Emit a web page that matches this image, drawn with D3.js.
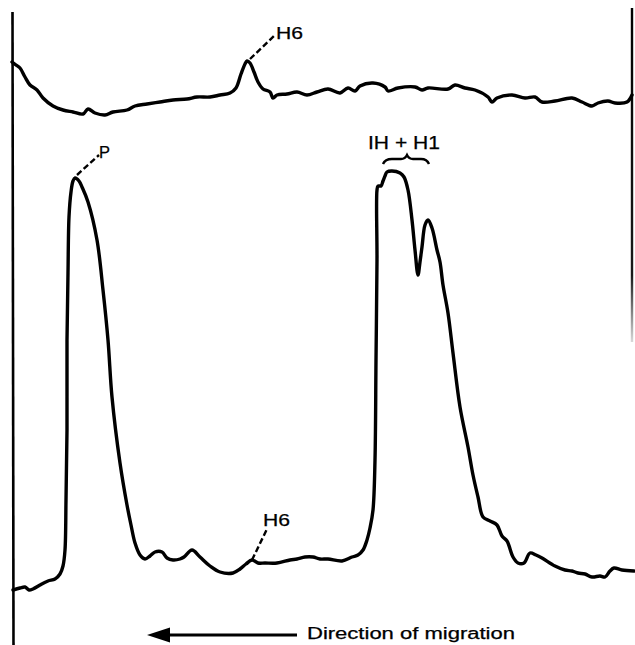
<!DOCTYPE html>
<html>
<head>
<meta charset="utf-8">
<script src="https://cdn.jsdelivr.net/npm/d3@7/dist/d3.min.js"></script>
<style>
  html, body { margin: 0; padding: 0; background: #fff; }
  svg { display: block; }
  text { font-family: "Liberation Sans", Arial, Helvetica, sans-serif; fill: #000; stroke: #000; stroke-width: 0.25px; }
</style>
</head>
<body>
<svg id="chart" width="635" height="645"></svg>
<script>
// Migration distance (arbitrary units) and densitometer readings (arbitrary units)
const topDistance = [0,4,8,13,18,25,31,41,51,61,71,76,83,93,101,115,123,135,148,161,175,185,198,208,218,224,229,233,235,238,242,246,251,258,261,265,275,285,295,305,316,328,336,343,348,361,373,376,386,403,410,416,436,443,453,463,476,480,485,500,513,523,530,543,560,570,580,586,596,603,615,620];
const topDensity  = [58,55,52,43,35,30,22,14,10,8,6,11,7,5,8,10,14,16,18,20,21,23,23,25,27,32,46,56,59,57,48,38,31,28,22,25,26,28,25,28,31,27,32,29,34,37,33,29,32,33,30,32,31,35,32,30,23,18,22,25,22,23,18,19,22,18,14,17,19,17,18,25];

const bottomDistance = [1,8,13,17,21,28,36,43,48,51,53,54,55,55,56,57,59,61,63,67,70,76,85,91,96,100,108,115,119,123,128,133,138,143,150,155,161,168,172,180,188,198,208,221,228,234,240,246,253,265,278,285,293,301,308,316,330,340,346,351,355,358,361,363,364,365,365,366,369,371,373,375,380,388,392,396,400,403,406,408,410,413,416,420,425,428,431,436,441,448,456,461,466,471,478,485,490,495,501,506,512,518,524,530,543,553,560,566,573,580,588,593,598,602,610,622];
const bottomDensity  = [10,12,13,10,11,15,19,21,26,34,50,100,170,260,327,383,408,419,422,419,413,398,360,310,260,203,137,95,75,57,45,41,44,48,48,42,40,41,43,50,43,34,28,27,31,36,40,37,37,37,40,41,43,43,41,41,39,43,45,50,60,72,90,140,240,340,410,414,414,419,424,428,429,427,423,410,380,350,325,338,353,375,380,372,350,338,315,287,247,193,153,125,103,83,79,75,64,59,43,37,37,47,45,42,34,30,29,27,26,23,24,23,29,32,30,29];

const labels = ["H6", "P", "IH + H1", "H6", "Direction of migration"];

const topSeries = topDistance.map((d, i) => ({ x: d, y: topDensity[i] }));
const bottomSeries = bottomDistance.map((d, i) => ({ x: d, y: bottomDensity[i] }));

const svg = d3.select("#chart");

const x = d3.scaleLinear().domain([0, 620]).range([12, 632]);
const yTop = d3.scaleLinear().domain([0, 100]).range([120, 20]);
const yBottom = d3.scaleLinear().domain([0, 500]).range([600, 100]);

// Frame lines (chart paper edges)
svg.append("line")
  .attr("x1", x(0) + 0.5).attr("x2", x(0) + 1.5)
  .attr("y1", 12).attr("y2", 645)
  .attr("stroke", "#000").attr("stroke-width", 2.6);

const grad = svg.append("defs").append("linearGradient")
  .attr("id", "fade").attr("x1", 0).attr("x2", 0).attr("y1", 0).attr("y2", 1);
grad.append("stop").attr("offset", "0%").attr("stop-color", "#000").attr("stop-opacity", 1);
grad.append("stop").attr("offset", "80%").attr("stop-color", "#000").attr("stop-opacity", 0.9);
grad.append("stop").attr("offset", "100%").attr("stop-color", "#000").attr("stop-opacity", 0.15);
svg.append("rect")
  .attr("x", x(620) - 1.2).attr("y", 8)
  .attr("width", 2.4).attr("height", 334)
  .attr("fill", "url(#fade)");

// Traces
const lineTop = d3.line().x(d => x(d.x)).y(d => yTop(d.y)).curve(d3.curveCatmullRom.alpha(0.5));
const lineBottom = d3.line().x(d => x(d.x)).y(d => yBottom(d.y)).curve(d3.curveCatmullRom.alpha(0.5));

svg.append("path").datum(topSeries)
  .attr("d", lineTop)
  .attr("fill", "none").attr("stroke", "#000")
  .attr("stroke-width", 3.4).attr("stroke-linejoin", "round").attr("stroke-linecap", "round");

svg.append("path").datum(bottomSeries)
  .attr("d", lineBottom)
  .attr("fill", "none").attr("stroke", "#000")
  .attr("stroke-width", 3.4).attr("stroke-linejoin", "round").attr("stroke-linecap", "round");

// Annotations
function leader(x1, y1, x2, y2) {
  svg.append("line")
    .attr("x1", x1).attr("y1", y1).attr("x2", x2).attr("y2", y2)
    .attr("stroke", "#000").attr("stroke-width", 2.4)
    .attr("stroke-dasharray", "6,3");
}
function label(txt, lx, ly, size, len) {
  svg.append("text")
    .attr("x", lx).attr("y", ly)
    .attr("font-size", size)
    .attr("textLength", len).attr("lengthAdjust", "spacingAndGlyphs")
    .text(txt);
}

// H6 on top trace (peak at distance 235)
const h6Top = topSeries[topDistance.indexOf(235)];
leader(x(h6Top.x) + 3, yTop(h6Top.y) - 2, 275, 35);
label(labels[0], 276, 39, 17, 27);

// P peak (distance 63)
const pPeak = bottomSeries[bottomDistance.indexOf(63)];
leader(x(pPeak.x) + 2, yBottom(pPeak.y) - 3, 99, 155);
label(labels[1], 99, 158, 17, 11);

// IH + H1 with brace
label(labels[2], 368, 149, 18, 72);
svg.append("path")
  .attr("d", "M383,164 Q385,159 392,159 L401,159 Q405,159 407,155 Q409,159 413,159 L421,159 Q427,159 429,164")
  .attr("fill", "none").attr("stroke", "#000").attr("stroke-width", 2.4);

// H6 on bottom trace (distance 240)
const h6Bot = bottomSeries[bottomDistance.indexOf(240)];
leader(x(h6Bot.x), yBottom(h6Bot.y), 267, 529);
label(labels[3], 263, 526, 17, 27);

// Direction arrow
svg.append("line")
  .attr("x1", 166).attr("x2", 297).attr("y1", 635).attr("y2", 635)
  .attr("stroke", "#000").attr("stroke-width", 3);
svg.append("path")
  .attr("d", "M147,635 L170,627.5 L170,642.5 Z")
  .attr("fill", "#000");
label(labels[4], 307, 639, 16, 208);
</script>
</body>
</html>
